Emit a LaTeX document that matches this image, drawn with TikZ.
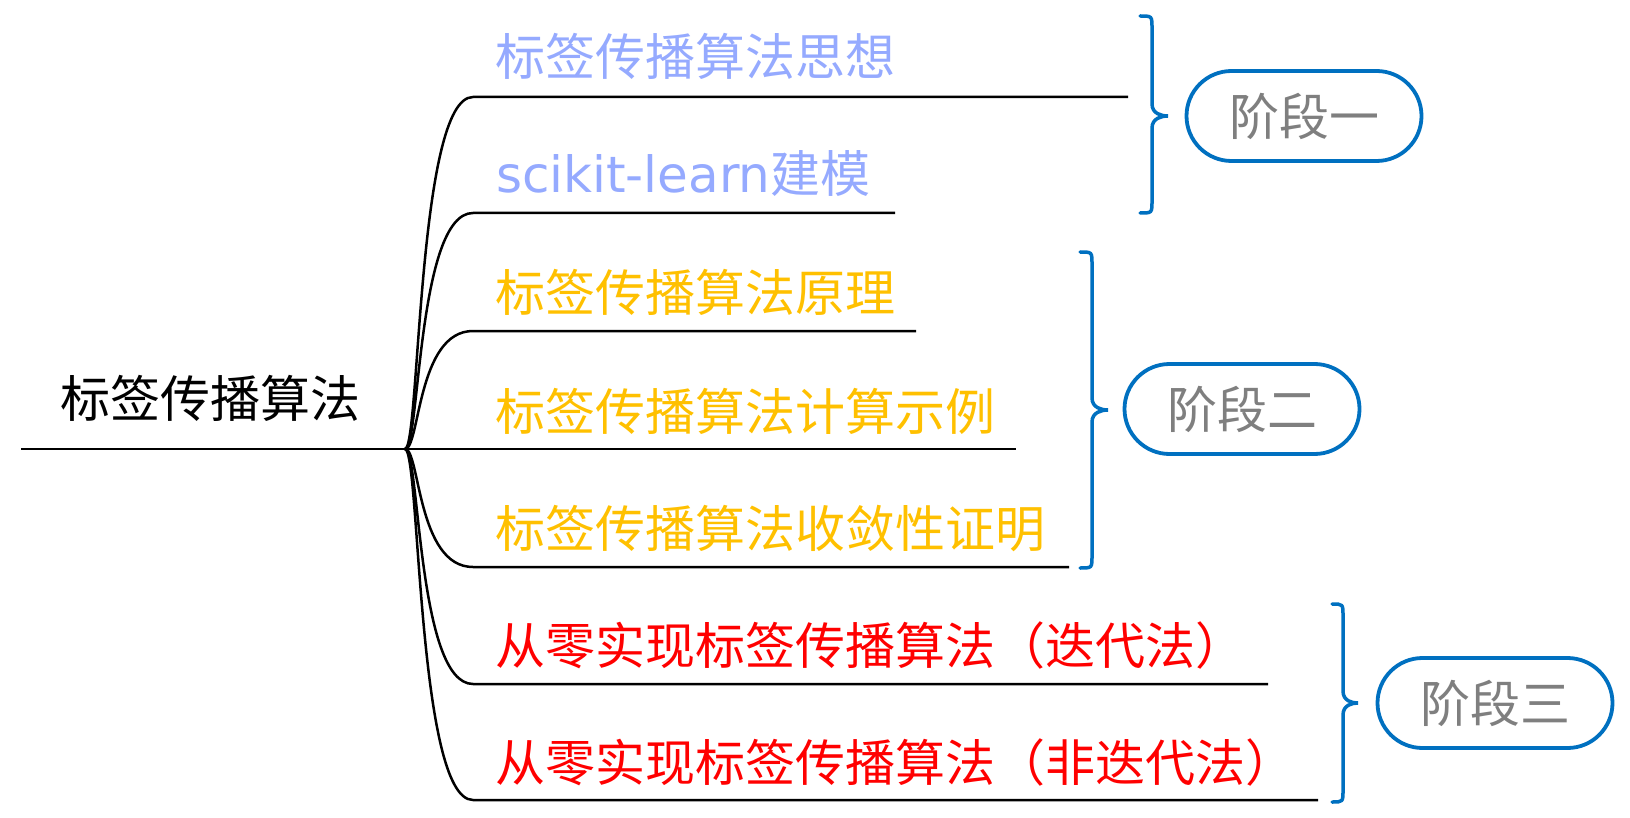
\documentclass[tikz,border=0pt]{standalone}
\usepackage{fontspec}
\setmainfont{Noto Sans CJK SC}
\newfontfamily\latinfont{DejaVu Sans}
\definecolor{tblue}{HTML}{95AAFF}
\definecolor{tyellow}{HTML}{FFC000}
\definecolor{tred}{HTML}{FF0000}
\definecolor{pblue}{HTML}{0070C0}
\definecolor{pgray}{HTML}{7F7F7F}
\newcommand\mybrace[6]{% xend xvert xtip ytop ytip ybot
  \draw[bracestyle] (#1,#4) .. controls (#2,#4) .. (#2,#4+12) -- (#2,#5-12)
    .. controls (#2,#5-2) and (#3-6,#5) .. (#3,#5)
    .. controls (#3-6,#5) and (#2,#5+2) .. (#2,#5+12) -- (#2,#6-12)
    .. controls (#2,#6) .. (#1,#6);}
\begin{document}
\begin{tikzpicture}[x=1pt,y=-1pt,
  every node/.style={inner sep=0pt, outer sep=0pt, font=\fontsize{50}{60}\selectfont},
  branch/.style={line width=2.5pt, black},
  lbl/.style={anchor=base west},
  bracestyle/.style={line width=3.5pt, pblue, line cap=round},
  pill/.style={draw=pblue, line width=3.8pt, rounded corners=45pt, minimum width=235pt, minimum height=90pt, text=pgray}]
\useasboundingbox (0,0) rectangle (1630,818);
% root
\coordinate (r0) at (21,449);
\coordinate (r) at (405,449);
\draw[branch] (r0) -- (r);
\node[lbl] (root) at (60,417) {标签传播算法};
% branch lines
\foreach \i/\y/\xe in {1/97/1128, 2/213/895, 3/331/916, 4/449/1016, 5/567/1069, 6/684/1268, 7/800/1318}{
  \coordinate (b\i s) at (473,\y);
  \coordinate (b\i e) at (\xe,\y);
  \draw[branch] (r) .. controls +(15,0) and +(-56,0) .. (b\i s) -- (b\i e);
}
% labels
\node[lbl, text=tblue] (t1) at (495,76) {标签传播算法思想};
\node[lbl, text=tblue] (t2) at (496,193) {{\latinfont scikit-learn}建模};
\node[lbl, text=tyellow] (t3) at (495,312) {标签传播算法原理};
\node[lbl, text=tyellow] (t4) at (495,430) {标签传播算法计算示例};
\node[lbl, text=tyellow] (t5) at (495,547) {标签传播算法收敛性证明};
\node[lbl, text=tred] (t6) at (495,664) {从零实现标签传播算法（迭代法）};
\node[lbl, text=tred] (t7) at (495,781) {从零实现标签传播算法（非迭代法）};
% braces
\mybrace{1140}{1152}{1168}{16}{116}{213}
\mybrace{1080}{1092}{1108}{252}{410}{568}
\mybrace{1332}{1343}{1358}{604}{703}{802}
% pills
\node[pill] (p1) at (1304,116) {阶段一};
\node[pill] (p2) at (1242,409) {阶段二};
\node[pill] (p3) at (1495,703) {阶段三};
\end{tikzpicture}
\end{document}
